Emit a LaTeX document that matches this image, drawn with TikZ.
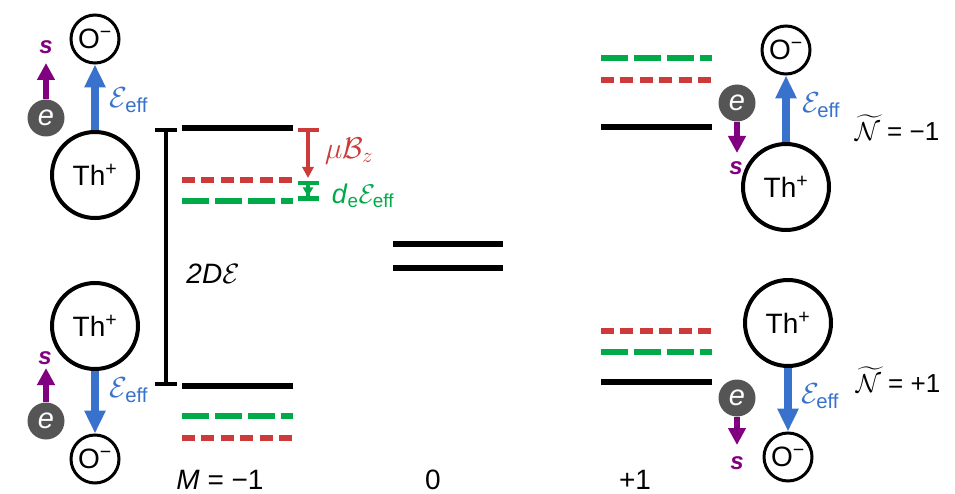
\RequirePackage{fix-cm}
\documentclass[tikz,border=0pt]{standalone}
\usepackage{amsmath}
\usepackage{fontspec}
\setmainfont{Liberation Sans}
\usetikzlibrary{arrows.meta,positioning}
\definecolor{lvlred}{RGB}{204,58,58}
\definecolor{lvlgreen}{RGB}{0,170,72}
\definecolor{fieldblue}{RGB}{56,114,204}
\definecolor{spinpurple}{RGB}{128,0,128}
\definecolor{elgray}{RGB}{85,85,85}
\newcommand{\Eeff}{$\mathcal{E}_{\text{eff}}$}

\begin{document}
\begin{tikzpicture}[x=1pt, y=-1pt,
  lvl/.style={line width=6pt},
  lvlr/.style={line width=5.5pt, lvlred, dash pattern=on 13pt off 6.4pt},
  lvlg/.style={line width=5.5pt, lvlgreen, dash pattern=on 27pt off 6pt},
  thion/.style={circle, draw, line width=4pt, minimum size=86pt, inner sep=0pt, font=\fontsize{28}{30}\selectfont},
  oion/.style={circle, draw, line width=3pt, minimum size=48pt, inner sep=0pt, font=\fontsize{28}{30}\selectfont},
  elec/.style={circle, fill=elgray, minimum size=37pt, inner sep=0pt, text=white, font=\fontsize{29}{30}\selectfont\itshape},
  spin/.style={-{Triangle[length=17pt,width=17pt]}, line width=6pt, spinpurple},
  spinlbl/.style={spinpurple, inner sep=0pt, font=\fontsize{24}{26}\selectfont\bfseries\itshape},
  field/.style={-{Triangle[length=23pt,width=20pt]}, line width=8.5pt, fieldblue},
  fieldlbl/.style={fieldblue, inner sep=0pt, font=\fontsize{29}{30}\selectfont},
  gap/.style={{Bar[width=22pt]}-{Bar[width=22pt]}, line width=4pt},
  zeeman/.style={{Bar[width=21pt]}-{Triangle[length=11pt,width=11pt]}, line width=4.5pt, lvlred, shorten >=2pt},
  edm/.style={{Bar[width=21pt]}-{Triangle[length=9pt,width=10pt]Bar[width=21pt]}, line width=4.5pt, lvlgreen},
  lbl/.style={inner sep=0pt, font=\fontsize{28}{30}\selectfont},
  nlbl/.style={inner sep=0pt, font=\fontsize{26}{28}\selectfont}
]
\useasboundingbox (0,0) rectangle (955,494);

% levels, M = -1
\draw[lvl] (182,128) -- (293,128);
\draw[lvlr] (182,180) -- (293,180);
\draw[lvlg] (182,201) -- (293,201);
\draw[lvl] (182,386) -- (293,386);
\draw[lvlg] (182,416) -- (293,416);
\draw[lvlr] (182,438) -- (293,438);
% levels, M = 0
\draw[lvl] (393,244) -- (503,244);
\draw[lvl] (393,268) -- (503,268);
% levels, M = +1
\draw[lvlg] (601,58) -- (712,58);
\draw[lvlr] (601,80) -- (712,80);
\draw[lvl] (601,127) -- (712,127);
\draw[lvlr] (601,331) -- (712,331);
\draw[lvlg] (601,352) -- (712,352);
\draw[lvl] (601,382) -- (712,382);

% splittings
\coordinate (gapT) at (166,128);
\coordinate (gapB) at (166,386);
\draw[gap] (gapT) -- (gapB);
\node[inner sep=0pt, font=\fontsize{28}{30}\selectfont] (gaplbl) at (213,274) {\textit{2D}$\mathcal{E}$};
\coordinate (zT) at (308,128);
\coordinate (zB) at (308,180);
\draw[zeeman] (zT) -- (zB);
\node[inner sep=0pt, text=lvlred, font=\fontsize{30}{32}\selectfont] (zlbl) at (349,151) {$\mu\mathcal{B}_z$};
\coordinate (dT) at (308,181);
\coordinate (dB) at (308,201);
\draw[edm] (dT) -- (dB);
\node[inner sep=0pt, text=lvlgreen, font=\fontsize{27}{29}\selectfont] (dlbl) at (363,196) {\textit{d}$_{\text{e}}\mathcal{E}_{\text{eff}}$};

% molecule, top left
\node[oion] (oTL) at (95,39) {O\textsuperscript{−}};
\node[thion] (thTL) at (95,175) {Th\textsuperscript{+}};
\node[elec] (eTL) at (46,118) {e};
\coordinate (tipTL) at (46,63);
\node[spinlbl] (sTL) at (46,47) {s};
\draw[field] (thTL) -- (oTL);
\draw[spin] (eTL) -- (tipTL);
\node[fieldlbl] (fTL) at (129,100) {\Eeff};

% molecule, bottom left
\node[thion] (thBL) at (95,326) {Th\textsuperscript{+}};
\node[oion] (oBL) at (95,459) {O\textsuperscript{−}};
\node[elec] (eBL) at (46,421) {e};
\coordinate (tipBL) at (46,368);
\node[spinlbl] (sBL) at (45,358) {s};
\draw[field] (thBL) -- (oBL);
\draw[spin] (eBL) -- (tipBL);
\node[fieldlbl] (fBL) at (129,390) {\Eeff};

% molecule, top right
\node[oion] (oTR) at (786,50) {O\textsuperscript{−}};
\node[thion] (thTR) at (786,187) {Th\textsuperscript{+}};
\node[elec] (eTR) at (737,103) {e};
\coordinate (tipTR) at (737,153);
\node[spinlbl] (sTR) at (736,168) {s};
\draw[field] (thTR) -- (oTR);
\draw[spin] (eTR) -- (tipTR);
\node[fieldlbl] (fTR) at (821,105) {\Eeff};
\node[nlbl] (nTR) at (897,128) {$\widetilde{\mathcal{N}}$ = −1};

% molecule, bottom right
\node[thion] (thBR) at (788,323) {Th\textsuperscript{+}};
\node[oion] (oBR) at (788,457) {O\textsuperscript{−}};
\node[elec] (eBR) at (737,398) {e};
\coordinate (tipBR) at (737,445);
\node[spinlbl] (sBR) at (737,463) {s};
\draw[field] (thBR) -- (oBR);
\draw[spin] (eBR) -- (tipBR);
\node[fieldlbl] (fBR) at (820,396) {\Eeff};
\node[nlbl] (nBR) at (898,380) {$\widetilde{\mathcal{N}}$ = +1};

% M labels
\node[lbl] (mA) at (220,480) {\textit{M} = −1};
\node[lbl] (mB) at (433,480) {0};
\node[lbl] (mC) at (635,480) {+1};
\end{tikzpicture}
\end{document}
